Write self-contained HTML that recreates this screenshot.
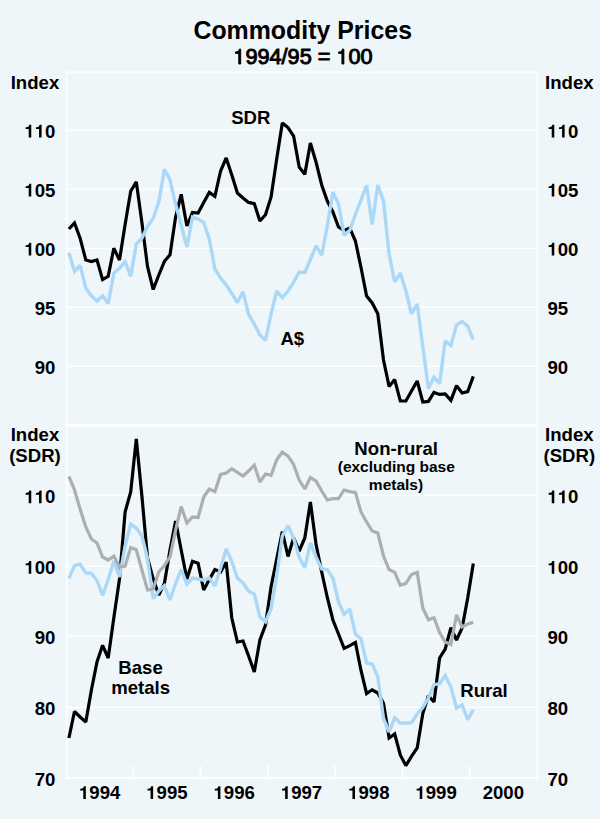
<!DOCTYPE html><html><head><meta charset="utf-8"><title>Commodity Prices</title>
<style>html,body{margin:0;padding:0;background:#eef6fa}svg{display:block}text{font-family:"Liberation Sans",sans-serif;font-weight:bold;fill:#000}</style></head><body>
<svg width="600" height="819" viewBox="0 0 600 819">
<rect width="600" height="819" fill="#eef6fa"/>
<g stroke="#fff" fill="none">
<line x1="66.4" y1="130.5" x2="538.5" y2="130.5" stroke-width="1.2" stroke-opacity="0.95"/>
<line x1="66" y1="129.5" x2="537.0" y2="129.5" stroke-width="1" stroke-opacity="0.6" stroke-dasharray="1 1"/>
<line x1="66.4" y1="189.5" x2="538.5" y2="189.5" stroke-width="1.2" stroke-opacity="0.95"/>
<line x1="66" y1="188.5" x2="537.0" y2="188.5" stroke-width="1" stroke-opacity="0.6" stroke-dasharray="1 1"/>
<line x1="66.4" y1="248.5" x2="538.5" y2="248.5" stroke-width="1.2" stroke-opacity="0.95"/>
<line x1="66" y1="247.5" x2="537.0" y2="247.5" stroke-width="1" stroke-opacity="0.6" stroke-dasharray="1 1"/>
<line x1="66.4" y1="307.5" x2="538.5" y2="307.5" stroke-width="1.2" stroke-opacity="0.95"/>
<line x1="66" y1="306.5" x2="537.0" y2="306.5" stroke-width="1" stroke-opacity="0.6" stroke-dasharray="1 1"/>
<line x1="66.4" y1="366.5" x2="538.5" y2="366.5" stroke-width="1.2" stroke-opacity="0.95"/>
<line x1="66" y1="365.5" x2="537.0" y2="365.5" stroke-width="1" stroke-opacity="0.6" stroke-dasharray="1 1"/>
<line x1="66.4" y1="495.5" x2="538.5" y2="495.5" stroke-width="1.2" stroke-opacity="0.95"/>
<line x1="66" y1="494.5" x2="537.0" y2="494.5" stroke-width="1" stroke-opacity="0.6" stroke-dasharray="1 1"/>
<line x1="66.4" y1="566.5" x2="538.5" y2="566.5" stroke-width="1.2" stroke-opacity="0.95"/>
<line x1="66" y1="565.5" x2="537.0" y2="565.5" stroke-width="1" stroke-opacity="0.6" stroke-dasharray="1 1"/>
<line x1="66.4" y1="636.5" x2="538.5" y2="636.5" stroke-width="1.2" stroke-opacity="0.95"/>
<line x1="66" y1="635.5" x2="537.0" y2="635.5" stroke-width="1" stroke-opacity="0.6" stroke-dasharray="1 1"/>
<line x1="66.4" y1="707.5" x2="538.5" y2="707.5" stroke-width="1.2" stroke-opacity="0.95"/>
<line x1="66" y1="706.5" x2="537.0" y2="706.5" stroke-width="1" stroke-opacity="0.6" stroke-dasharray="1 1"/>
</g>
<g stroke="#fff" fill="none">
<line x1="66.8" y1="71.2" x2="66.8" y2="779.0" stroke-width="2" stroke-opacity="0.8"/>
<line x1="537.3" y1="71.2" x2="537.3" y2="779.0" stroke-width="1.9" stroke-opacity="0.85"/>
<line x1="65.8" y1="72.2" x2="538.2" y2="72.2" stroke-width="2" stroke-opacity="0.8"/>
<line x1="65.8" y1="778.0" x2="538.2" y2="778.0" stroke-width="2" stroke-opacity="0.95"/>
<line x1="65.0" y1="425.3" x2="538.6" y2="425.3" stroke-width="2.6"/>
<line x1="133.3" y1="766.0" x2="133.3" y2="778.0" stroke-width="2" stroke-opacity="0.9"/>
<line x1="200.6" y1="766.0" x2="200.6" y2="778.0" stroke-width="2" stroke-opacity="0.9"/>
<line x1="267.9" y1="766.0" x2="267.9" y2="778.0" stroke-width="2" stroke-opacity="0.9"/>
<line x1="335.1" y1="766.0" x2="335.1" y2="778.0" stroke-width="2" stroke-opacity="0.9"/>
<line x1="402.4" y1="766.0" x2="402.4" y2="778.0" stroke-width="2" stroke-opacity="0.9"/>
<line x1="469.7" y1="766.0" x2="469.7" y2="778.0" stroke-width="2" stroke-opacity="0.9"/>
</g>
<polyline points="68.9,229.0 74.5,222.9 80.1,238.2 85.8,260.0 91.4,261.6 97.0,260.0 102.6,279.6 108.2,276.3 113.8,248.3 119.5,260.0 125.1,224.5 130.7,191.3 136.3,181.9 141.9,222.5 147.5,266.5 153.2,289.5 158.8,275.0 164.4,261.3 170.0,254.8 175.6,217.0 181.2,194.4 186.9,226.0 192.5,212.4 198.1,213.0 203.7,202.4 209.3,192.4 214.9,196.4 220.6,171.0 226.2,158.0 231.8,175.0 237.4,193.0 243.0,198.0 248.6,202.4 254.3,203.6 259.9,221.0 265.5,214.7 271.1,197.0 276.7,159.0 282.3,123.0 288.0,127.6 293.6,136.0 299.2,167.0 304.8,174.4 310.4,143.0 316.0,162.0 321.7,185.0 327.3,201.0 332.9,212.0 338.5,227.0 344.1,230.5 349.8,228.0 355.4,241.0 361.0,267.5 366.6,296.0 372.2,303.0 377.8,313.8 383.5,360.0 389.1,386.4 394.7,379.6 400.3,401.0 405.9,401.0 411.5,391.0 417.2,381.0 422.8,402.0 428.4,401.4 434.0,392.4 439.6,394.4 445.2,394.0 450.9,400.4 456.5,385.6 462.1,393.0 467.7,391.6 473.3,376.4" fill="none" stroke="#000" stroke-width="3.2" stroke-linejoin="miter" stroke-miterlimit="2" stroke-linecap="butt"/>
<polyline points="68.9,252.8 74.5,271.4 80.1,265.5 85.8,288.0 91.4,295.8 97.0,301.1 102.6,295.8 108.2,303.6 113.8,273.3 119.5,268.4 125.1,261.6 130.7,276.3 136.3,244.0 141.9,238.2 147.5,226.4 153.2,218.3 158.8,202.0 164.4,169.4 170.0,179.8 175.6,204.0 181.2,225.0 186.9,247.0 192.5,217.0 198.1,219.0 203.7,222.4 209.3,239.0 214.9,269.0 220.6,278.0 226.2,285.0 231.8,293.5 237.4,302.5 243.0,291.8 248.6,314.3 254.3,324.0 259.9,335.0 265.5,340.4 271.1,314.0 276.7,291.0 282.3,297.6 288.0,291.0 293.6,282.4 299.2,272.0 304.8,272.4 310.4,259.5 316.0,245.8 321.7,255.3 327.3,226.0 332.9,192.0 338.5,204.0 344.1,235.3 349.8,230.2 355.4,214.5 361.0,200.0 366.6,185.3 372.2,224.4 377.8,185.0 383.5,201.0 389.1,254.0 394.7,282.0 400.3,273.0 405.9,291.0 411.5,314.0 417.2,304.0 422.8,346.5 428.4,388.4 434.0,377.0 439.6,383.6 445.2,341.0 450.9,345.6 456.5,325.0 462.1,321.6 467.7,326.0 473.3,339.6" fill="none" stroke="#abd8f7" stroke-width="3.4" stroke-linejoin="miter" stroke-miterlimit="2" stroke-linecap="butt"/>
<polyline points="68.9,738.0 74.5,711.5 80.1,717.0 85.8,722.0 91.4,690.0 97.0,662.0 102.6,645.3 108.2,658.0 113.8,618.0 119.5,579.0 125.1,512.0 130.7,492.0 136.3,439.0 141.9,496.0 147.5,558.0 153.2,578.8 158.8,595.0 164.4,583.5 170.0,550.0 175.6,521.0 181.2,550.0 186.9,579.0 192.5,561.3 198.1,563.3 203.7,590.0 209.3,579.5 214.9,569.6 220.6,572.0 226.2,562.2 231.8,618.0 237.4,642.0 243.0,641.0 248.6,656.0 254.3,672.0 259.9,640.0 265.5,625.0 271.1,586.5 276.7,559.0 282.3,531.6 288.0,556.5 293.6,538.0 299.2,551.0 304.8,538.0 310.4,502.0 316.0,544.0 321.7,572.0 327.3,597.5 332.9,620.0 338.5,634.0 344.1,648.4 349.8,645.6 355.4,642.4 361.0,670.5 366.6,693.6 372.2,689.8 377.8,693.0 383.5,703.3 389.1,738.0 394.7,734.0 400.3,755.0 405.9,765.6 411.5,756.4 417.2,748.0 422.8,713.5 428.4,695.8 434.0,702.0 439.6,658.0 445.2,649.0 450.9,627.6 456.5,640.0 462.1,628.0 467.7,598.0 473.3,563.6" fill="none" stroke="#000" stroke-width="3.2" stroke-linejoin="miter" stroke-miterlimit="2" stroke-linecap="butt"/>
<polyline points="68.9,578.4 74.5,565.6 80.1,564.2 85.8,573.0 91.4,573.3 97.0,580.5 102.6,595.5 108.2,579.5 113.8,561.0 119.5,577.0 125.1,546.0 130.7,524.0 136.3,528.0 141.9,536.0 147.5,558.5 153.2,598.8 158.8,591.0 164.4,585.8 170.0,600.0 175.6,583.5 181.2,569.5 186.9,584.0 192.5,578.0 198.1,579.0 203.7,580.2 209.3,578.0 214.9,586.0 220.6,568.0 226.2,549.0 231.8,561.5 237.4,578.0 243.0,583.0 248.6,591.3 254.3,594.2 259.9,617.0 265.5,622.0 271.1,608.5 276.7,576.0 282.3,536.0 288.0,525.6 293.6,538.0 299.2,557.0 304.8,567.8 310.4,543.0 316.0,557.0 321.7,569.0 327.3,569.6 332.9,578.0 338.5,602.0 344.1,614.4 349.8,609.0 355.4,634.4 361.0,638.7 366.6,663.0 372.2,664.0 377.8,677.0 383.5,718.5 389.1,732.0 394.7,717.8 400.3,723.3 405.9,723.0 411.5,722.7 417.2,714.0 422.8,707.6 428.4,698.0 434.0,684.7 439.6,683.6 445.2,675.6 450.9,687.0 456.5,708.0 462.1,705.0 467.7,719.6 473.3,709.6" fill="none" stroke="#abd8f7" stroke-width="3.4" stroke-linejoin="miter" stroke-miterlimit="2" stroke-linecap="butt"/>
<polyline points="68.9,476.4 74.5,490.0 80.1,509.0 85.8,527.0 91.4,539.0 97.0,543.0 102.6,557.0 108.2,560.0 113.8,556.0 119.5,567.0 125.1,566.0 130.7,547.5 136.3,549.7 141.9,570.0 147.5,590.0 153.2,588.8 158.8,572.0 164.4,565.5 170.0,557.0 175.6,530.0 181.2,506.6 186.9,523.0 192.5,517.0 198.1,517.6 203.7,497.0 209.3,489.0 214.9,491.6 220.6,474.4 226.2,473.0 231.8,468.7 237.4,472.4 243.0,476.0 248.6,471.0 254.3,465.0 259.9,482.0 265.5,474.0 271.1,475.3 276.7,459.8 282.3,452.0 288.0,456.2 293.6,464.4 299.2,480.0 304.8,489.0 310.4,477.6 316.0,481.0 321.7,491.0 327.3,500.0 332.9,498.6 338.5,498.6 344.1,490.0 349.8,491.6 355.4,492.4 361.0,512.0 366.6,522.0 372.2,531.0 377.8,533.0 383.5,556.0 389.1,569.5 394.7,572.4 400.3,585.3 405.9,583.5 411.5,574.5 417.2,572.5 422.8,608.0 428.4,619.8 434.0,617.8 439.6,632.5 445.2,642.0 450.9,644.4 456.5,615.0 462.1,627.0 467.7,624.0 473.3,622.4" fill="none" stroke="#acaeb0" stroke-width="3.2" stroke-linejoin="miter" stroke-miterlimit="2" stroke-linecap="butt"/>
<text x="302.7" y="39.4" font-size="24.9" text-anchor="middle">Commodity Prices</text>
<path d="M515 0V1000H200V1128C440 1150 520 1220 575 1409H696V0Z" transform="translate(233.31 64.00) scale(0.01060 -0.01060)" stroke="#000" stroke-width="89.7"/>
<text x="245.38" y="64.0" font-size="21.7" style="font-weight:normal" stroke="#000" stroke-width="0.95">9</text>
<text x="257.45" y="64.0" font-size="21.7" style="font-weight:normal" stroke="#000" stroke-width="0.95">9</text>
<text x="269.52" y="64.0" font-size="21.7" style="font-weight:normal" stroke="#000" stroke-width="0.95">4</text>
<text x="281.59" y="64.0" font-size="21.7" style="font-weight:normal" stroke="#000" stroke-width="0.95">/</text>
<text x="287.62" y="64.0" font-size="21.7" style="font-weight:normal" stroke="#000" stroke-width="0.95">9</text>
<text x="299.68" y="64.0" font-size="21.7" style="font-weight:normal" stroke="#000" stroke-width="0.95">5</text>
<text x="317.78" y="64.0" font-size="21.7" style="font-weight:normal" stroke="#000" stroke-width="0.95">=</text>
<path d="M515 0V1000H200V1128C440 1150 520 1220 575 1409H696V0Z" transform="translate(336.48 64.00) scale(0.01060 -0.01060)" stroke="#000" stroke-width="89.7"/>
<text x="348.55" y="64.0" font-size="21.7" style="font-weight:normal" stroke="#000" stroke-width="0.95">0</text>
<text x="360.62" y="64.0" font-size="21.7" style="font-weight:normal" stroke="#000" stroke-width="0.95">0</text>
<text x="35.0" y="89.2" font-size="18.6" text-anchor="middle">Index</text>
<text x="569.3" y="89.2" font-size="18.6" text-anchor="middle">Index</text>
<path d="M478 0V940H135V1132C360 1132 510 1210 545 1409H759V0Z" transform="translate(24.37 137.50) scale(0.00908 -0.00908)"/>
<path d="M478 0V940H135V1132C360 1132 510 1210 545 1409H759V0Z" transform="translate(34.71 137.50) scale(0.00908 -0.00908)"/>
<text x="45.06" y="137.5" font-size="18.6">0</text>
<path d="M478 0V940H135V1132C360 1132 510 1210 545 1409H759V0Z" transform="translate(547.40 137.50) scale(0.00908 -0.00908)"/>
<path d="M478 0V940H135V1132C360 1132 510 1210 545 1409H759V0Z" transform="translate(557.74 137.50) scale(0.00908 -0.00908)"/>
<text x="568.09" y="137.5" font-size="18.6">0</text>
<path d="M478 0V940H135V1132C360 1132 510 1210 545 1409H759V0Z" transform="translate(24.37 196.50) scale(0.00908 -0.00908)"/>
<text x="34.71" y="196.5" font-size="18.6">0</text>
<text x="45.06" y="196.5" font-size="18.6">5</text>
<path d="M478 0V940H135V1132C360 1132 510 1210 545 1409H759V0Z" transform="translate(547.40 196.50) scale(0.00908 -0.00908)"/>
<text x="557.74" y="196.5" font-size="18.6">0</text>
<text x="568.09" y="196.5" font-size="18.6">5</text>
<path d="M478 0V940H135V1132C360 1132 510 1210 545 1409H759V0Z" transform="translate(24.37 255.50) scale(0.00908 -0.00908)"/>
<text x="34.71" y="255.5" font-size="18.6">0</text>
<text x="45.06" y="255.5" font-size="18.6">0</text>
<path d="M478 0V940H135V1132C360 1132 510 1210 545 1409H759V0Z" transform="translate(547.40 255.50) scale(0.00908 -0.00908)"/>
<text x="557.74" y="255.5" font-size="18.6">0</text>
<text x="568.09" y="255.5" font-size="18.6">0</text>
<text x="34.71" y="314.5" font-size="18.6">9</text>
<text x="45.06" y="314.5" font-size="18.6">5</text>
<text x="547.40" y="314.5" font-size="18.6">9</text>
<text x="557.74" y="314.5" font-size="18.6">5</text>
<text x="34.71" y="373.5" font-size="18.6">9</text>
<text x="45.06" y="373.5" font-size="18.6">0</text>
<text x="547.40" y="373.5" font-size="18.6">9</text>
<text x="557.74" y="373.5" font-size="18.6">0</text>
<text x="35.0" y="441.2" font-size="18.6" text-anchor="middle">Index</text>
<text x="35.0" y="461.6" font-size="18.6" text-anchor="middle">(SDR)</text>
<text x="569.3" y="441.2" font-size="18.6" text-anchor="middle">Index</text>
<text x="569.3" y="461.6" font-size="18.6" text-anchor="middle">(SDR)</text>
<path d="M478 0V940H135V1132C360 1132 510 1210 545 1409H759V0Z" transform="translate(24.37 503.20) scale(0.00908 -0.00908)"/>
<path d="M478 0V940H135V1132C360 1132 510 1210 545 1409H759V0Z" transform="translate(34.71 503.20) scale(0.00908 -0.00908)"/>
<text x="45.06" y="503.2" font-size="18.6">0</text>
<path d="M478 0V940H135V1132C360 1132 510 1210 545 1409H759V0Z" transform="translate(547.40 503.20) scale(0.00908 -0.00908)"/>
<path d="M478 0V940H135V1132C360 1132 510 1210 545 1409H759V0Z" transform="translate(557.74 503.20) scale(0.00908 -0.00908)"/>
<text x="568.09" y="503.2" font-size="18.6">0</text>
<path d="M478 0V940H135V1132C360 1132 510 1210 545 1409H759V0Z" transform="translate(24.37 573.80) scale(0.00908 -0.00908)"/>
<text x="34.71" y="573.8" font-size="18.6">0</text>
<text x="45.06" y="573.8" font-size="18.6">0</text>
<path d="M478 0V940H135V1132C360 1132 510 1210 545 1409H759V0Z" transform="translate(547.40 573.80) scale(0.00908 -0.00908)"/>
<text x="557.74" y="573.8" font-size="18.6">0</text>
<text x="568.09" y="573.8" font-size="18.6">0</text>
<text x="34.71" y="644.4" font-size="18.6">9</text>
<text x="45.06" y="644.4" font-size="18.6">0</text>
<text x="547.40" y="644.4" font-size="18.6">9</text>
<text x="557.74" y="644.4" font-size="18.6">0</text>
<text x="34.71" y="715.0" font-size="18.6">8</text>
<text x="45.06" y="715.0" font-size="18.6">0</text>
<text x="547.40" y="715.0" font-size="18.6">8</text>
<text x="557.74" y="715.0" font-size="18.6">0</text>
<text x="34.71" y="785.5" font-size="18.6">7</text>
<text x="45.06" y="785.5" font-size="18.6">0</text>
<text x="547.40" y="785.5" font-size="18.6">7</text>
<text x="557.74" y="785.5" font-size="18.6">0</text>
<path d="M478 0V940H135V1132C360 1132 510 1210 545 1409H759V0Z" transform="translate(78.95 799.00) scale(0.00908 -0.00908)"/>
<text x="89.30" y="799.0" font-size="18.6">9</text>
<text x="99.64" y="799.0" font-size="18.6">9</text>
<text x="109.99" y="799.0" font-size="18.6">4</text>
<path d="M478 0V940H135V1132C360 1132 510 1210 545 1409H759V0Z" transform="translate(146.24 799.00) scale(0.00908 -0.00908)"/>
<text x="156.58" y="799.0" font-size="18.6">9</text>
<text x="166.93" y="799.0" font-size="18.6">9</text>
<text x="177.27" y="799.0" font-size="18.6">5</text>
<path d="M478 0V940H135V1132C360 1132 510 1210 545 1409H759V0Z" transform="translate(213.53 799.00) scale(0.00908 -0.00908)"/>
<text x="223.87" y="799.0" font-size="18.6">9</text>
<text x="234.21" y="799.0" font-size="18.6">9</text>
<text x="244.56" y="799.0" font-size="18.6">6</text>
<path d="M478 0V940H135V1132C360 1132 510 1210 545 1409H759V0Z" transform="translate(280.81 799.00) scale(0.00908 -0.00908)"/>
<text x="291.16" y="799.0" font-size="18.6">9</text>
<text x="301.50" y="799.0" font-size="18.6">9</text>
<text x="311.84" y="799.0" font-size="18.6">7</text>
<path d="M478 0V940H135V1132C360 1132 510 1210 545 1409H759V0Z" transform="translate(348.10 799.00) scale(0.00908 -0.00908)"/>
<text x="358.44" y="799.0" font-size="18.6">9</text>
<text x="368.79" y="799.0" font-size="18.6">9</text>
<text x="379.13" y="799.0" font-size="18.6">8</text>
<path d="M478 0V940H135V1132C360 1132 510 1210 545 1409H759V0Z" transform="translate(415.38 799.00) scale(0.00908 -0.00908)"/>
<text x="425.73" y="799.0" font-size="18.6">9</text>
<text x="436.07" y="799.0" font-size="18.6">9</text>
<text x="446.42" y="799.0" font-size="18.6">9</text>
<text x="482.67" y="799.0" font-size="18.6">2</text>
<text x="493.01" y="799.0" font-size="18.6">0</text>
<text x="503.36" y="799.0" font-size="18.6">0</text>
<text x="513.70" y="799.0" font-size="18.6">0</text>
<text x="250.8" y="124.0" font-size="18.6" text-anchor="middle">SDR</text>
<text x="292.3" y="345.0" font-size="18.6" text-anchor="middle">A$</text>
<text x="396.2" y="454.5" font-size="18.6" text-anchor="middle">Non-rural</text>
<text x="396.3" y="471.9" font-size="15.5" text-anchor="middle">(excluding base</text>
<text x="396.0" y="489.7" font-size="15.5" text-anchor="middle">metals)</text>
<text x="140.5" y="673.8" font-size="18.6" text-anchor="middle">Base</text>
<text x="140.6" y="694.4" font-size="18.6" text-anchor="middle">metals</text>
<text x="484.0" y="697.2" font-size="18.6" text-anchor="middle">Rural</text>
</svg></body></html>
